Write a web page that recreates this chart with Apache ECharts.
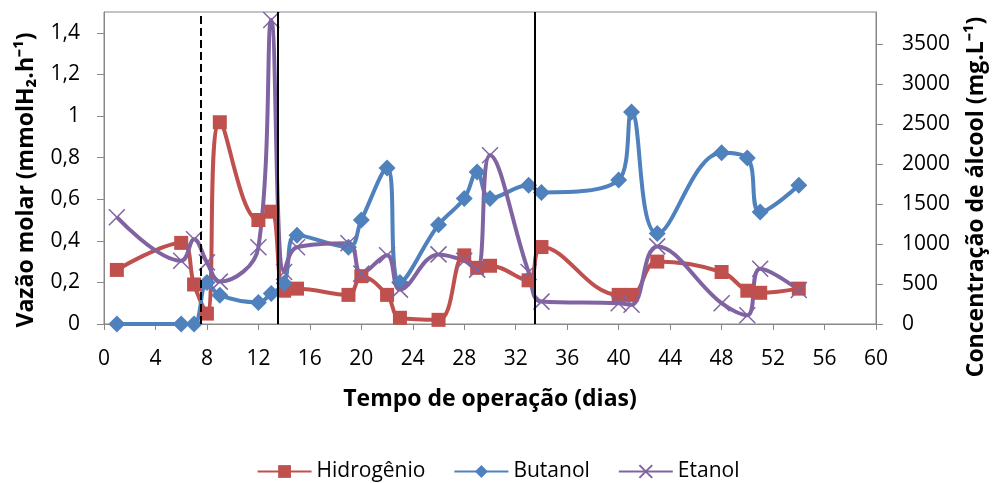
<!DOCTYPE html>
<html>
<head>
<meta charset="utf-8">
<script src="https://cdn.jsdelivr.net/npm/echarts@6/dist/echarts.min.js"></script>
<style>
  html, body { margin: 0; padding: 0; background: #fff; }
  #chart { width: 996px; height: 483px; }
</style>
</head>
<body>
<div id="chart"></div>
<script>
// dias de operação e valores
const hidroDias = [1, 6, 7, 8, 9, 12, 13, 14, 15, 19, 20, 22, 23, 26, 28, 29, 30, 33, 34, 40, 41, 43, 48, 50, 51, 54]
const hidroVals = [0.26, 0.39, 0.19, 0.05, 0.97, 0.5, 0.54, 0.16, 0.17, 0.14, 0.23, 0.14, 0.03, 0.02, 0.33, 0.27, 0.28, 0.21, 0.37, 0.14, 0.14, 0.3, 0.25, 0.16, 0.15, 0.17]

const butanolDias = [1, 6, 7, 8, 9, 12, 13, 14, 15, 19, 20, 22, 23, 26, 28, 29, 30, 33, 34, 40, 41, 43, 48, 50, 51, 54]
const butanolVals = [0, 0, 0, 520, 360, 270, 380, 510, 1110, 960, 1300, 1950, 520, 1240, 1570, 1900, 1570, 1735, 1645, 1800, 2650, 1130, 2140, 2075, 1400, 1735]

const etanolDias = [1, 6, 7, 8, 9, 12, 13, 14, 15, 19, 20, 22, 23, 26, 28, 29, 30, 33, 34, 40, 41, 43, 48, 50, 51, 54]
const etanolVals = [1335, 790, 1060, 770, 530, 960, 3800, 650, 960, 1010, 630, 860, 430, 870, 790, 680, 2110, 650, 280, 260, 240, 970, 260, 110, 690, 425]

// linhas verticais (mudança de fase)
const fasesTracejadas = [7.5]
const fasesSolidas = [13.5, 33.5]

const xTicks = { min: 0, max: 60, interval: 4 }

const zip = (a, b) => a.map((d, i) => [d, b[i]])

const fonte = "Open Sans"
const cinza = "#888"
const xSymbol = "path://M0,0L10,10M10,0L0,10"
const tituloStyle = { fontFamily: fonte, fontSize: 23, fontWeight: "bold", color: "#000" }

const option = {
  animation: false,
  grid: {
    left: 104, right: 117, top: 12, bottom: 159,
    show: true, borderColor: cinza, borderWidth: 1
  },
  legend: {
    top: 456,
    left: "center",
    itemWidth: 54,
    itemHeight: 16,
    itemGap: 28,
    textStyle: { fontFamily: fonte, fontSize: 21, color: "#000" },
    data: ["Hidrogênio", "Butanol", "Etanol"]
  },
  xAxis: {
    type: "value",
    min: xTicks.min, max: xTicks.max, interval: xTicks.interval,
    name: "Tempo de operação (dias)",
    nameLocation: "middle",
    nameGap: 64,
    nameTextStyle: tituloStyle,
    axisLine: { lineStyle: { color: cinza } },
    axisTick: { show: true, length: 6, lineStyle: { color: cinza } },
    axisLabel: { fontFamily: fonte, fontSize: 21, color: "#000", margin: 25 },
    splitLine: { show: false }
  },
  yAxis: [
    {
      type: "value",
      min: 0, max: 1.5, interval: 0.2,
      name: "Vazão molar (mmolH₂.h⁻¹)",
      nameLocation: "middle",
      nameGap: 66,
      nameTextStyle: Object.assign({ padding: [0, 24, 0, 0] }, tituloStyle),
      axisLine: { show: true, lineStyle: { color: cinza } },
      axisTick: { show: true, length: 7, lineStyle: { color: cinza } },
      axisLabel: {
        fontFamily: fonte, fontSize: 21, color: "#000", showMaxLabel: false, margin: 24,
        formatter: v => String(+v.toFixed(1)).replace(".", ",")
      },
      splitLine: { show: false }
    },
    {
      type: "value",
      min: 0, max: 3900, interval: 500,
      name: "Concentração de álcool (mg.L⁻¹)",
      nameLocation: "middle",
      nameGap: 89,
      nameTextStyle: Object.assign({ padding: [0, 58, 0, 0] }, tituloStyle),
      axisLine: { show: true, lineStyle: { color: cinza } },
      axisTick: { show: true, length: 7, lineStyle: { color: cinza } },
      axisLabel: {
        fontFamily: fonte, fontSize: 21, color: "#000", showMaxLabel: false, margin: 26,
        formatter: v => String(v)
      },
      splitLine: { show: false }
    }
  ],
  series: [
    {
      name: "Hidrogênio",
      type: "line",
      yAxisIndex: 0,
      smooth: 0.4,
      data: zip(hidroDias, hidroVals),
      symbol: "rect",
      symbolSize: 14,
      color: "#C0504D",
      lineStyle: { width: 4, color: "#C0504D" },
      markLine: {
        silent: true,
        symbol: ["none", "none"],
        label: { show: false },
        lineStyle: { color: "#000", width: 2, type: "solid" },
        data: [
          ...fasesTracejadas.map(x => ({ xAxis: x, lineStyle: { type: "dashed", width: 2, color: "#000" } })),
          ...fasesSolidas.map(x => ({ xAxis: x }))
        ]
      }
    },
    {
      name: "Butanol",
      type: "line",
      yAxisIndex: 1,
      smooth: 0.4,
      data: zip(butanolDias, butanolVals),
      symbol: "diamond",
      symbolSize: 17,
      color: "#4F81BD",
      lineStyle: { width: 4, color: "#4F81BD" }
    },
    {
      name: "Etanol",
      type: "line",
      yAxisIndex: 1,
      smooth: 0.4,
      data: zip(etanolDias, etanolVals),
      symbol: xSymbol,
      symbolSize: 16,
      color: "#8064A2",
      itemStyle: { color: "#8064A2", borderColor: "#8064A2", borderWidth: 1.5 },
      lineStyle: { width: 4, color: "#8064A2" }
    }
  ]
}

var myChart = echarts.init(document.getElementById("chart"))
myChart.setOption(option)
</script>
</body>
</html>
